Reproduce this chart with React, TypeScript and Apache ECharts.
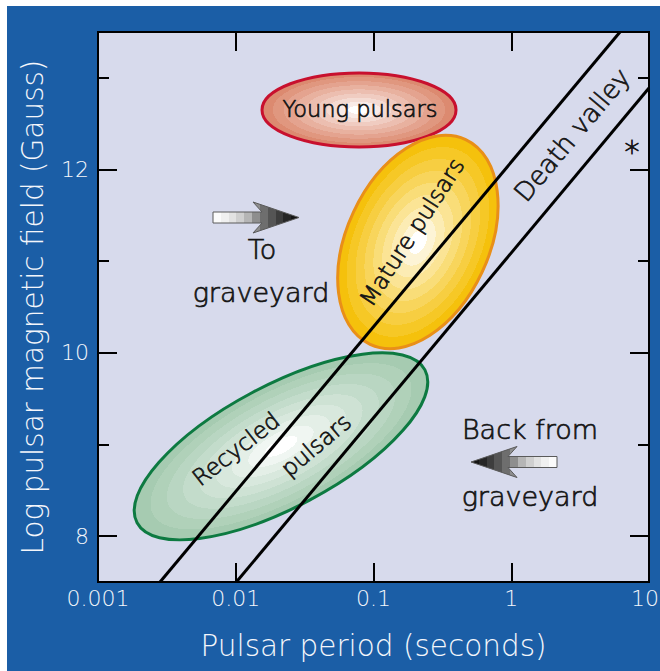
import React, { useEffect, useRef } from 'react';
import * as echarts from 'echarts';

// ---------------- data ----------------
const periodTickLabels = ['0.001', '0.01', '0.1', '1', '10'];
const periodRange = [0.001, 10];
const fieldRange = [7.5, 13.5];
const fieldTickValues = [8, 10, 12];
const fieldMinorTickValues = [9, 11, 13];

// Death valley boundary lines: [period (s), log B (G)]
const deathLineUpper = [[0.00282, 7.5], [6.16, 13.5]];
const deathLineLower = [[0.0101, 7.5], [10, 12.89]];

// Pulsar populations: centre [period (s), log B (G)]
const regionNames = ['Young pulsars', 'Mature pulsars', 'Recycled pulsars'];
const regionCentres = [[0.0785, 12.65], [0.21, 11.21], [0.0213, 8.98]];

// ---------------- styles ----------------
const OX = 7;
const OY = 6;
const FONT = 'DejaVu Sans, Liberation Sans, sans-serif';
const TEXT = '#151515';
const WEIGHT = 300;

const regionStyles = [
  { rx: 97, ry: 37, rot: 0, outer: '#dc8a70', stroke: '#c8102e' },
  { rx: 71, ry: 113, rot: -25, outer: '#f5c10c', stroke: '#e98f18' },
  { rx: 163, ry: 61, rot: 28, outer: '#a6cbb1', stroke: '#0d7a41' },
];

function hexToRgb(h: string) {
  const v = parseInt(h.slice(1), 16);
  return [(v >> 16) & 255, (v >> 8) & 255, v & 255];
}
function mix(a: string, b: string, t: number) {
  const A = hexToRgb(a);
  const B = hexToRgb(b);
  const c = A.map((x, i) => Math.round(x + (B[i] - x) * t));
  return `rgb(${c[0]},${c[1]},${c[2]})`;
}
function bandStops(inner: string, outer: string, n: number) {
  const stops: { offset: number; color: string }[] = [];
  for (let i = 0; i < n; i++) {
    const t = Math.pow(i / (n - 1), 0.85);
    const col = mix(inner, outer, t);
    stops.push({ offset: i / n, color: col });
    stops.push({ offset: (i + 1) / n, color: col });
  }
  return stops;
}
function arrowStops() {
  const cols = ['#fbfbfb', '#f0f0f0', '#e2e2e2', '#cfcfcf', '#b5b5b5', '#8e8e8e', '#6e6e6e', '#555555', '#3d3d3d', '#262626', '#141414'];
  const stops: { offset: number; color: string }[] = [];
  cols.forEach((c, i) => {
    stops.push({ offset: i / cols.length, color: c });
    stops.push({ offset: (i + 1) / cols.length, color: c });
  });
  return stops;
}

const P = (x: number, y: number) => ({ x: x - OX, y: y - OY });

function label(text: string, x: number, y: number, size: number, rotDeg = 0, strokeW = 0.7) {
  return {
    type: 'text',
    ...P(x, y),
    rotation: (rotDeg * Math.PI) / 180,
    z: 20,
    style: {
      text,
      fill: TEXT,
      stroke: TEXT,
      lineWidth: strokeW,
      font: `${WEIGHT} ${size}px ${FONT}`,
      align: 'center',
      verticalAlign: 'middle',
    },
  };
}

function arrow(pts: number[][], reverse: boolean) {
  return {
    type: 'polygon',
    z: 20,
    shape: { points: pts.map(([x, y]) => [x - OX, y - OY]) },
    style: {
      fill: {
        type: 'linear',
        x: reverse ? 1 : 0,
        y: 0,
        x2: reverse ? 0 : 1,
        y2: 0,
        colorStops: arrowStops(),
      },
      stroke: '#5a5a5a',
      lineWidth: 1,
    },
  };
}

export default function App() {
  const ref = useRef<HTMLDivElement>(null);

  useEffect(() => {
    document.body.style.margin = '0';
    if (!ref.current) return;
    const chart = echarts.init(ref.current, undefined, { renderer: 'svg' });

    const tickStyle = { color: '#000', width: 2 };
    const baseX = {
      type: 'log',
      logBase: 10,
      min: periodRange[0],
      max: periodRange[1],
      gridIndex: 0,
      axisLine: { show: false, onZero: false },
      splitLine: { show: false },
      axisTick: { show: true, inside: true, length: 19, lineStyle: tickStyle },
    };
    const baseY = {
      type: 'value',
      min: fieldRange[0],
      max: fieldRange[1],
      gridIndex: 0,
      axisLine: { show: false, onZero: false },
      splitLine: { show: false },
    };
    const axisText = { color: '#f4f6fb', fontFamily: FONT, fontWeight: WEIGHT };

    const option = {
      animation: false,
      backgroundColor: '#1b5ea6',
      grid: {
        left: 91,
        top: 26,
        right: 11,
        bottom: 89,
        containLabel: false,
        outerBoundsMode: 'none',
        show: true,
        backgroundColor: '#d7daec',
        borderColor: '#000',
        borderWidth: 2,
      },
      xAxis: [
        {
          ...baseX,
          position: 'bottom',
          name: 'Pulsar period (seconds)',
          nameLocation: 'middle',
          nameGap: 49,
          nameTextStyle: { ...axisText, fontSize: 29.5 },
          axisLabel: {
            ...axisText,
            fontSize: 22,
            margin: 5,
            formatter: (v: number) => {
              const i = Math.round(Math.log10(v)) + 3;
              const t = periodTickLabels[i] ?? '';
              return i === periodTickLabels.length - 1 ? `{edge|${t}}` : t;
            },
            rich: {
              edge: {
                ...axisText,
                fontSize: 22,
                width: 36,
                align: 'left',
              },
            },
          },
        },
        { ...baseX, position: 'top', axisLabel: { show: false } },
      ],
      yAxis: [
        {
          ...baseY,
          position: 'left',
          name: 'Log pulsar magnetic field (Gauss)',
          nameLocation: 'middle',
          nameGap: 50,
          nameTextStyle: { ...axisText, fontSize: 29.5 },
          axisTick: { show: true, inside: true, length: 19, lineStyle: tickStyle, customValues: fieldTickValues },
          axisLabel: {
            ...axisText,
            fontSize: 22,
            margin: 9,
            customValues: fieldTickValues,
          },
        },
        {
          ...baseY,
          position: 'left',
          axisTick: { show: true, inside: true, length: 11, lineStyle: tickStyle, customValues: fieldMinorTickValues },
          axisLabel: { show: false },
        },
        {
          ...baseY,
          position: 'right',
          axisTick: { show: true, inside: true, length: 19, lineStyle: tickStyle, customValues: fieldTickValues },
          axisLabel: { show: false },
        },
        {
          ...baseY,
          position: 'right',
          axisTick: { show: true, inside: true, length: 11, lineStyle: tickStyle, customValues: fieldMinorTickValues },
          axisLabel: { show: false },
        },
      ],
      series: [
        {
          type: 'custom',
          name: 'populations',
          xAxisIndex: 0,
          yAxisIndex: 0,
          z: 2,
          clip: false,
          data: regionCentres.map((c, i) => ({ name: regionNames[i], value: c })),
          renderItem: (params: any, api: any) => {
            const s = regionStyles[params.dataIndex];
            const pt = api.coord([api.value(0), api.value(1)]);
            return {
              type: 'ellipse',
              x: pt[0],
              y: pt[1],
              rotation: (s.rot * Math.PI) / 180,
              shape: { cx: 0, cy: 0, rx: s.rx, ry: s.ry },
              style: {
                fill: {
                  type: 'radial',
                  x: 0.5,
                  y: 0.5,
                  r: 0.5,
                  colorStops: bandStops('#ffffff', s.outer, 9),
                },
                stroke: s.stroke,
                lineWidth: 3,
              },
            };
          },
        },
        {
          type: 'line',
          name: 'death line upper',
          xAxisIndex: 0,
          yAxisIndex: 0,
          z: 5,
          data: deathLineUpper,
          symbol: 'none',
          lineStyle: { color: '#000', width: 3 },
        },
        {
          type: 'line',
          name: 'death line lower',
          xAxisIndex: 0,
          yAxisIndex: 0,
          z: 5,
          data: deathLineLower,
          symbol: 'none',
          lineStyle: { color: '#000', width: 3 },
        },
      ],
      graphic: [
        label('Young pulsars', 360, 109, 22.5),
        label('Mature pulsars', 412, 232, 23, 57),
        label('Recycled', 236, 449, 23, 38),
        label('pulsars', 316, 445, 23, 40),
        label('Death valley', 572, 135, 26, 50),
        label('*', 632, 151, 30, 0, 0.8),
        label('To', 262, 249, 27),
        label('graveyard', 261, 292, 27),
        label('Back from', 530, 429, 27),
        label('graveyard', 530, 496, 27),
        arrow(
          [[213, 212], [262, 212], [253, 202], [299, 217.5], [253, 233], [262, 223], [213, 223]],
          false
        ),
        arrow(
          [[557, 456.5], [508, 456.5], [517, 446.5], [471, 462], [517, 477.5], [508, 467.5], [557, 467.5]],
          true
        ),
      ],
    };

    chart.setOption(option as any);
    return () => chart.dispose();
  }, []);

  return (
    <div style={{ position: 'relative', width: 660, height: 671, background: '#fff', overflow: 'hidden' }}>
      <div
        ref={ref}
        style={{ position: 'absolute', left: OX, top: OY, width: 660 - OX, height: 671 - OY }}
      />
    </div>
  );
}
